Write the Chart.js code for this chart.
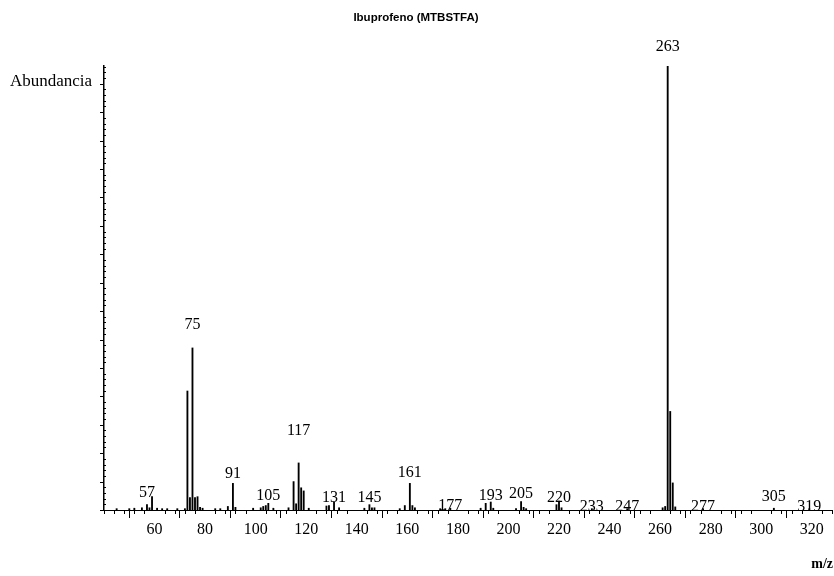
<!DOCTYPE html>
<html><head><meta charset="utf-8">
<script src="https://cdn.jsdelivr.net/npm/chart.js@4/dist/chart.umd.min.js"></script>
<style>html,body{margin:0;padding:0;background:#fff}canvas{display:block}</style>
</head><body>
<canvas id="c" width="834" height="576"></canvas>
<script>
const chartTitle = 'Ibuprofeno (MTBSTFA)';
const yTitle = 'Abundancia';
const xTitle = 'm/z';
const massToCharge = [45,50,52,55,57,58,59,61,63,65,69,72,73,74,75,76,77,78,79,84,86,89,91,92,99,102,103,104,105,107,113,115,116,117,118,119,121,128,129,131,133,143,145,146,147,157,159,161,162,163,173,175,177,189,191,193,194,203,205,206,207,219,220,221,233,247,261,262,263,264,265,266,277,305,319];
const abundance   = [0.3,0.3,0.4,0.5,1.2,0.5,3.0,0.4,0.3,0.3,0.3,0.3,26.8,2.8,36.5,2.8,3.0,0.6,0.4,0.3,0.3,0.8,6.0,0.6,0.4,0.5,0.8,1.0,1.5,0.4,0.5,6.4,1.4,10.6,5.0,4.3,0.4,0.9,1.0,1.8,0.5,0.4,1.2,0.5,0.5,0.3,1.0,6.0,1.0,0.5,0.3,0.3,0.4,0.4,1.5,1.8,0.4,0.3,1.9,0.6,0.3,1.2,2.0,0.5,0.3,0.3,0.5,0.8,100,22.2,6.1,0.7,0.3,0.4,0.3];
const labeledPeaks = [57,75,91,105,117,131,145,161,177,193,205,220,233,247,263,277,305,319];
const xTickValues = [60,80,100,120,140,160,180,200,220,240,260,280,300,320];

const labelGap = {57:12,75:23,91:0,105:8,117:32,131:4,145:7,161:11,177:2,193:6,205:8,220:3,233:2,247:2,263:19,277:2,305:11,319:2};

const points = massToCharge.map((m,i)=>({x:m,y:abundance[i]}));

const decor = {
  id:'decor',
  afterDraw(chart){
    const ctx = chart.ctx, xs = chart.scales.x, ys = chart.scales.y, area = chart.chartArea;
    ctx.save();
    ctx.strokeStyle = '#000'; ctx.lineWidth = 1;
    const yStep = 1.28;
    for(let i=0;i*yStep<=100.01;i++){
      const py = Math.round(ys.getPixelForValue(i*yStep))+0.5;
      ctx.beginPath();
      if(i%5===0){ctx.moveTo(area.left-4,py);ctx.lineTo(area.left,py);}
      else {ctx.moveTo(area.left-1,py);ctx.lineTo(area.left+2,py);}
      ctx.stroke();
    }
    for(let v=40; v<=xs.max; v+=4){
      if(v%20===0 && v>=60) continue;
      const px = Math.round(xs.getPixelForValue(v))+0.5;
      ctx.beginPath();ctx.moveTo(px,area.bottom);ctx.lineTo(px,area.bottom+4);ctx.stroke();
    }
    ctx.fillStyle='#000';
    ctx.font = '16px "Liberation Serif", "Times New Roman", serif';
    ctx.textAlign='center'; ctx.textBaseline='middle';
    labeledPeaks.forEach(m=>{
      const idx = massToCharge.indexOf(m);
      const val = idx>=0 ? abundance[idx] : 0;
      const px = xs.getPixelForValue(m);
      const py = ys.getPixelForValue(val) - (labelGap[m]||10);
      ctx.fillText(String(m), px, py);
    });
    ctx.font = '17px "Liberation Serif", "Times New Roman", serif';
    ctx.textAlign='left';
    ctx.fillText(yTitle, 10, 82);
    ctx.font = 'bold 14px "Liberation Serif", "Times New Roman", serif';
    ctx.textAlign='right';
    ctx.fillText(xTitle, 833, 564);
    ctx.restore();
  }
};

new Chart(document.getElementById('c'), {
  type:'bar',
  data:{datasets:[{data:points, backgroundColor:'#000', borderWidth:0, barThickness:1.2, grouped:false}]},
  options:{
    responsive:false, animation:false, devicePixelRatio:1,
    layout:{padding:{left:0,right:2,top:0,bottom:0}},
    plugins:{
      legend:{display:false}, tooltip:{enabled:false},
      title:{display:true, text:chartTitle, color:'#000',
        font:{family:'"Liberation Sans", Arial, sans-serif', size:11.5, weight:'bold'},
        padding:{top:11,bottom:41.2}}
    },
    scales:{
      x:{type:'linear', min:40, max:328, offset:false,
        afterBuildTicks(s){ s.ticks = xTickValues.map(v=>({value:v})); },
        afterFit(s){ s.height = 66; },
        grid:{display:true, drawOnChartArea:false, drawTicks:true, tickLength:8, tickColor:'#000', tickWidth:1},
        border:{display:true, color:'#000', width:1},
        ticks:{color:'#000', padding:2, maxRotation:0, autoSkip:false,
          font:{family:'"Liberation Serif", "Times New Roman", serif', size:16}}
      },
      y:{min:0, max:100,
        afterFit(s){ s.width = 104; },
        grid:{display:false, drawTicks:false},
        border:{display:true, color:'#000', width:1.5},
        ticks:{display:false}
      }
    }
  },
  plugins:[decor]
});
</script>
</body></html>
